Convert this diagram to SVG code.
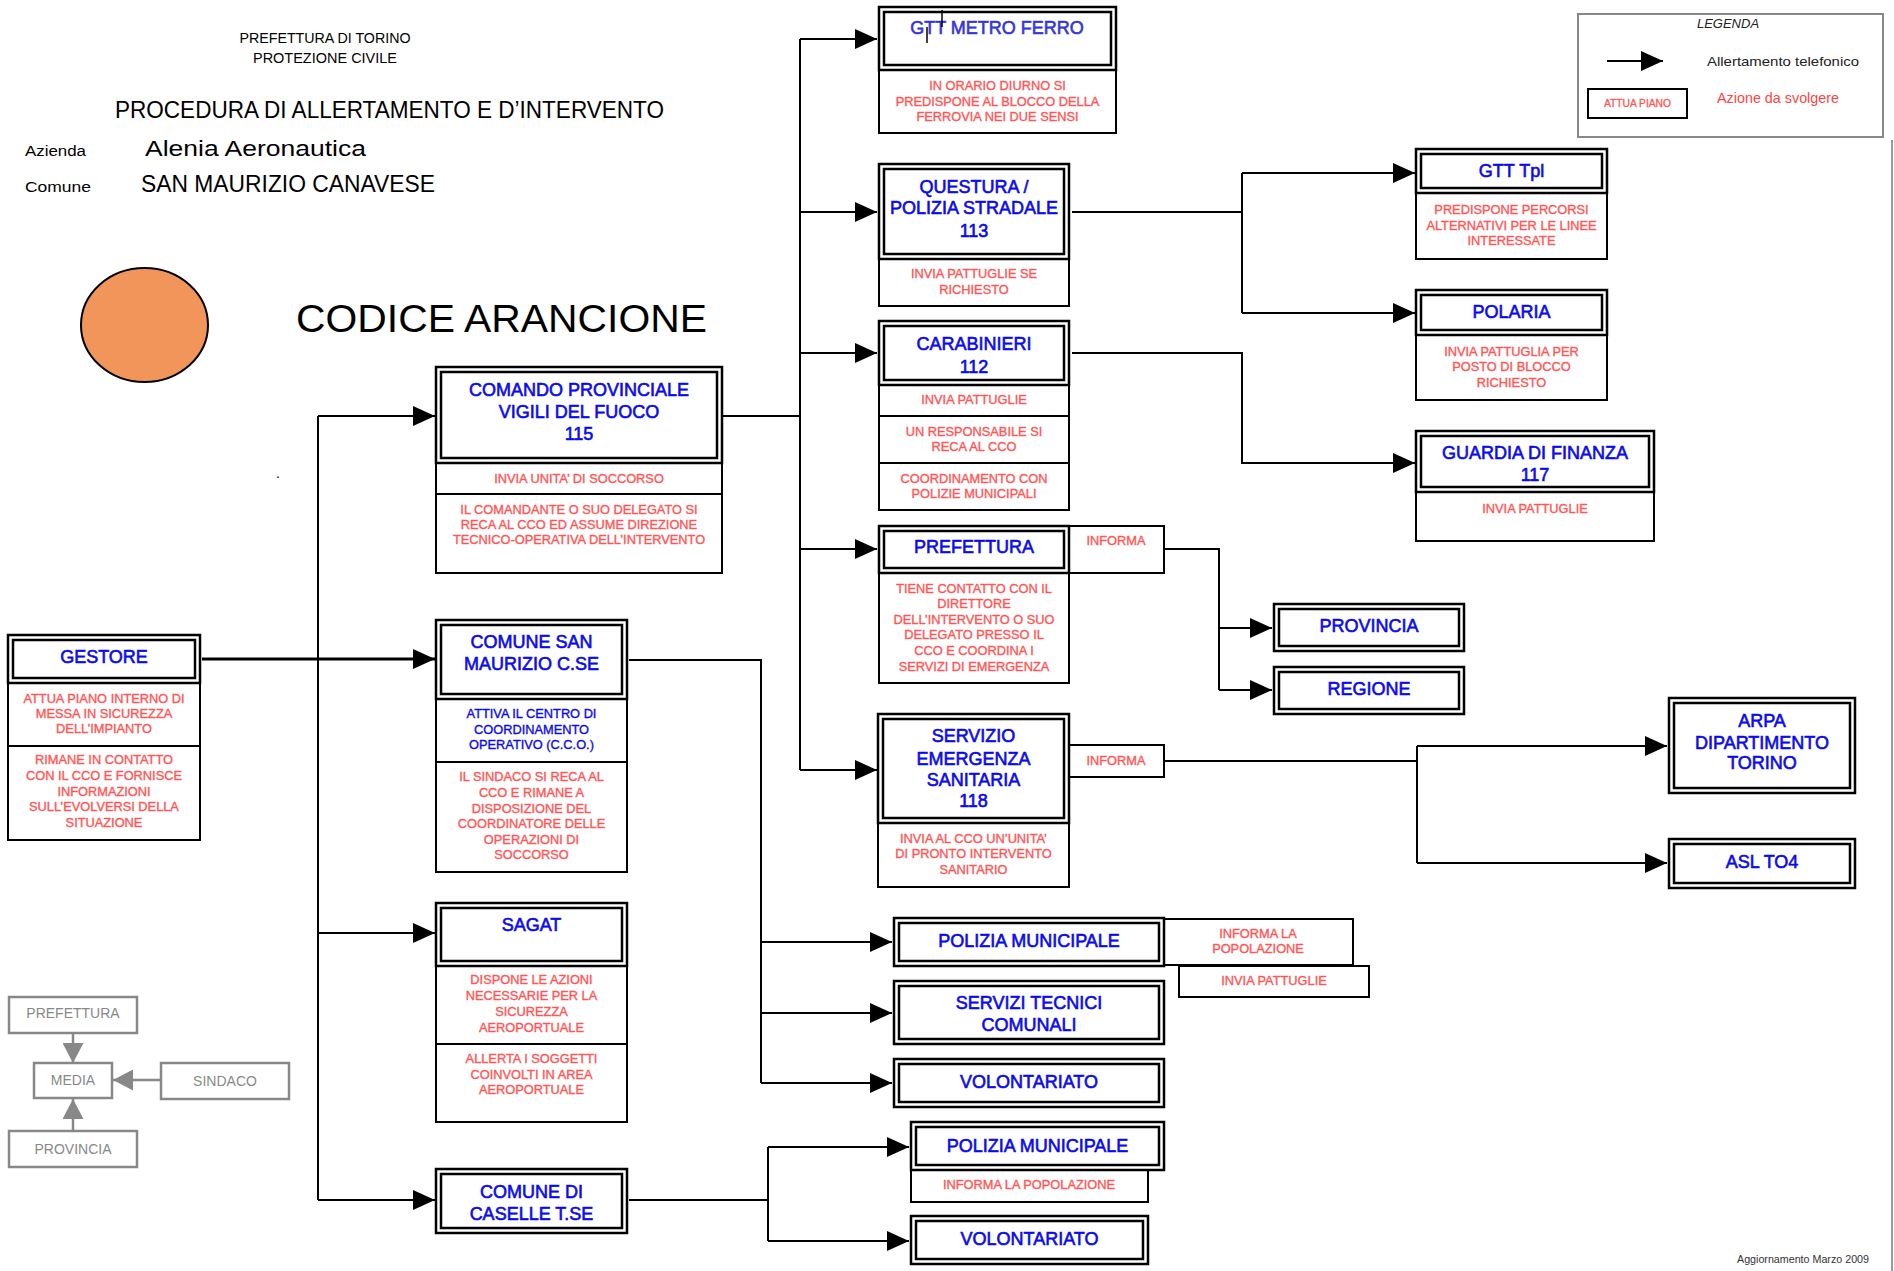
<svg xmlns="http://www.w3.org/2000/svg" width="1894" height="1271" viewBox="0 0 1894 1271">
<style>
text{font-family:"Liberation Sans",Arial,sans-serif}
.t{font-size:18px;fill:#0a0aee;stroke:#0a0aee;stroke-width:0.6;text-anchor:middle}
.r{font-size:12.8px;fill:#ff5555;stroke:#ff5555;stroke-width:0.35;text-anchor:middle}
.b{font-size:12.8px;fill:#0a0aee;stroke:#0a0aee;stroke-width:0.35;text-anchor:middle}
.o{fill:#fff;stroke:#000;stroke-width:2.5}
.i{fill:none;stroke:#000;stroke-width:2.5}
.a{fill:#fff;stroke:#000;stroke-width:2}
.c{fill:none;stroke:#000;stroke-width:2}
.gb{fill:#fff;stroke:#888;stroke-width:2.5}
.gl{fill:none;stroke:#888;stroke-width:2.5}
.gt{font-size:14px;fill:#888;text-anchor:middle}
</style>
<defs>
<marker id="ah" viewBox="0 0 22 20" refX="22" refY="10" markerWidth="22" markerHeight="20" markerUnits="userSpaceOnUse" orient="auto"><path d="M0,0L22,10L0,20z" fill="#000"/></marker>
<marker id="gh" viewBox="0 0 20 21" refX="20" refY="10.5" markerWidth="20" markerHeight="21" markerUnits="userSpaceOnUse" orient="auto"><path d="M0,0L20,10.5L0,21z" fill="#888"/></marker>
</defs>

<g id="header">
<text x="325" y="43" font-size="15" text-anchor="middle" textLength="171" lengthAdjust="spacingAndGlyphs">PREFETTURA DI TORINO</text>
<text x="325" y="63" font-size="15" text-anchor="middle" textLength="144" lengthAdjust="spacingAndGlyphs">PROTEZIONE CIVILE</text>
<text x="115" y="118" font-size="24" textLength="549" lengthAdjust="spacingAndGlyphs">PROCEDURA DI ALLERTAMENTO E D’INTERVENTO</text>
<text x="25" y="156" font-size="14" textLength="61" lengthAdjust="spacingAndGlyphs">Azienda</text>
<text x="145" y="156" font-size="22" textLength="221" lengthAdjust="spacingAndGlyphs">Alenia Aeronautica</text>
<text x="25" y="192" font-size="14" textLength="66" lengthAdjust="spacingAndGlyphs">Comune</text>
<text x="141" y="192" font-size="23" textLength="294" lengthAdjust="spacingAndGlyphs">SAN MAURIZIO CANAVESE</text>
<ellipse cx="144.5" cy="325" rx="63.5" ry="57" fill="#f2955a" stroke="#000" stroke-width="2"/>
<text x="296" y="332" font-size="38" textLength="411" lengthAdjust="spacingAndGlyphs">CODICE ARANCIONE</text>
<text x="276" y="478" font-size="14">.</text>
<text x="1869" y="1263" font-size="11" text-anchor="end" fill="#333" textLength="132" lengthAdjust="spacingAndGlyphs">Aggiornamento Marzo 2009</text>
<line x1="1892" y1="140" x2="1892" y2="1271" stroke="#999" stroke-width="2"/>
</g>

<g id="legend">
<rect x="1578" y="14" width="305" height="123" fill="#fff" stroke="#888" stroke-width="2"/>
<text x="1728" y="28" font-size="13" font-style="italic" text-anchor="middle" fill="#222">LEGENDA</text>
<line x1="1607" y1="61" x2="1663" y2="61" stroke="#000" stroke-width="2" marker-end="url(#ah)"/>
<text x="1707" y="66" font-size="13.5" fill="#222" textLength="152" lengthAdjust="spacingAndGlyphs">Allertamento telefonico</text>
<rect x="1588" y="89" width="99" height="29" fill="#fff" stroke="#000" stroke-width="2"/>
<text x="1637.5" y="107" font-size="10" fill="#ff5555" stroke="#ff5555" stroke-width="0.3" text-anchor="middle" textLength="67" lengthAdjust="spacingAndGlyphs">ATTUA PIANO</text>
<text x="1717" y="103" font-size="14" fill="#ff4444" textLength="122" lengthAdjust="spacingAndGlyphs">Azione da svolgere</text>
</g>

<g id="connectors" class="c">
<line x1="202" y1="659" x2="435" y2="659" stroke-width="3" marker-end="url(#ah)"/>
<line x1="318" y1="416" x2="318" y2="1200"/>
<line x1="318" y1="416" x2="435" y2="416" marker-end="url(#ah)"/>
<line x1="318" y1="933" x2="435" y2="933" marker-end="url(#ah)"/>
<line x1="318" y1="1200" x2="435" y2="1200" marker-end="url(#ah)"/>
<line x1="722" y1="416" x2="800" y2="416"/>
<line x1="800" y1="39" x2="800" y2="770"/>
<line x1="800" y1="39" x2="877" y2="39" marker-end="url(#ah)"/>
<line x1="800" y1="212" x2="877" y2="212" marker-end="url(#ah)"/>
<line x1="800" y1="353" x2="877" y2="353" marker-end="url(#ah)"/>
<line x1="800" y1="549" x2="877" y2="549" marker-end="url(#ah)"/>
<line x1="800" y1="770" x2="877" y2="770" marker-end="url(#ah)"/>
<path d="M1072,212H1242M1242,173V313"/>
<line x1="1242" y1="173" x2="1415" y2="173" marker-end="url(#ah)"/>
<line x1="1242" y1="313" x2="1415" y2="313" marker-end="url(#ah)"/>
<path d="M1072,353H1242V463H1415" marker-end="url(#ah)"/>
<path d="M1164,549H1219V690"/>
<line x1="1219" y1="628" x2="1272" y2="628" marker-end="url(#ah)"/>
<line x1="1219" y1="690" x2="1272" y2="690" marker-end="url(#ah)"/>
<path d="M1164,761H1417M1417,746V863"/>
<line x1="1417" y1="746" x2="1667" y2="746" marker-end="url(#ah)"/>
<line x1="1417" y1="863" x2="1667" y2="863" marker-end="url(#ah)"/>
<path d="M629,660H761V1083"/>
<line x1="761" y1="942" x2="892" y2="942" marker-end="url(#ah)"/>
<line x1="761" y1="1013" x2="892" y2="1013" marker-end="url(#ah)"/>
<line x1="761" y1="1083" x2="892" y2="1083" marker-end="url(#ah)"/>
<path d="M629,1200H768M768,1147V1241"/>
<line x1="768" y1="1147" x2="909" y2="1147" marker-end="url(#ah)"/>
<line x1="768" y1="1241" x2="909" y2="1241" marker-end="url(#ah)"/>
</g>

<g id="n-gtt-metro">
<rect class="a" x="879" y="70" width="237" height="63"/>
<rect class="o" x="879" y="7" width="237" height="63"/>
<rect class="i" x="884" y="12" width="227" height="53"/>
<text class="t" x="997" y="34" style="fill:#3535d8;stroke:#3535d8">GTT METRO FERRO</text>
<path d="M942,10V27M927,27V43" stroke="#000" stroke-width="1.5"/>
<text class="r" x="997.5" y="90">IN ORARIO DIURNO SI</text>
<text class="r" x="997.5" y="106">PREDISPONE AL BLOCCO DELLA</text>
<text class="r" x="997.5" y="121">FERROVIA NEI DUE SENSI</text>
</g>

<g id="n-questura">
<rect class="a" x="879" y="259" width="190" height="47"/>
<rect class="o" x="879" y="164" width="190" height="95"/>
<rect class="i" x="884" y="169" width="180" height="85"/>
<text class="t" x="974" y="193">QUESTURA /</text>
<text class="t" x="974" y="214">POLIZIA STRADALE</text>
<text class="t" x="974" y="237">113</text>
<text class="r" x="974" y="278">INVIA PATTUGLIE SE</text>
<text class="r" x="974" y="294">RICHIESTO</text>
</g>

<g id="n-carabinieri">
<rect class="a" x="879" y="385" width="190" height="31"/>
<rect class="a" x="879" y="416" width="190" height="47"/>
<rect class="a" x="879" y="463" width="190" height="47"/>
<rect class="o" x="879" y="321" width="190" height="64"/>
<rect class="i" x="884" y="326" width="180" height="54"/>
<text class="t" x="974" y="350">CARABINIERI</text>
<text class="t" x="974" y="373">112</text>
<text class="r" x="974" y="404">INVIA PATTUGLIE</text>
<text class="r" x="974" y="436">UN RESPONSABILE SI</text>
<text class="r" x="974" y="451">RECA AL CCO</text>
<text class="r" x="974" y="483">COORDINAMENTO CON</text>
<text class="r" x="974" y="498">POLIZIE MUNICIPALI</text>
</g>

<g id="n-prefettura">
<rect class="a" x="879" y="573" width="190" height="110"/>
<rect class="a" x="1069" y="526" width="95" height="47"/>
<rect class="o" x="879" y="526" width="190" height="47"/>
<rect class="i" x="884" y="531" width="180" height="37"/>
<text class="t" x="974" y="553">PREFETTURA</text>
<text class="r" x="1116" y="545">INFORMA</text>
<text class="r" x="974" y="593">TIENE CONTATTO CON  IL</text>
<text class="r" x="974" y="608">DIRETTORE</text>
<text class="r" x="974" y="624">DELL’INTERVENTO  O SUO</text>
<text class="r" x="974" y="639">DELEGATO PRESSO IL</text>
<text class="r" x="974" y="655">CCO E COORDINA I</text>
<text class="r" x="974" y="671">SERVIZI DI EMERGENZA</text>
</g>

<g id="n-118">
<rect class="a" x="878" y="823" width="191" height="64"/>
<rect class="a" x="1069" y="745" width="95" height="32"/>
<rect class="o" x="878" y="714" width="191" height="109"/>
<rect class="i" x="883" y="719" width="181" height="99"/>
<text class="t" x="973.5" y="742">SERVIZIO</text>
<text class="t" x="973.5" y="765">EMERGENZA</text>
<text class="t" x="973.5" y="786">SANITARIA</text>
<text class="t" x="973.5" y="807">118</text>
<text class="r" x="1116" y="765">INFORMA</text>
<text class="r" x="973.5" y="843">INVIA AL CCO UN’UNITA’</text>
<text class="r" x="973.5" y="858">DI PRONTO INTERVENTO</text>
<text class="r" x="973.5" y="874">SANITARIO</text>
</g>

<g id="n-vvf">
<rect class="a" x="436" y="463" width="286" height="31"/>
<rect class="a" x="436" y="494" width="286" height="79"/>
<rect class="o" x="436" y="367" width="286" height="96"/>
<rect class="i" x="441" y="372" width="276" height="86"/>
<text class="t" x="579" y="396">COMANDO PROVINCIALE</text>
<text class="t" x="579" y="418">VIGILI DEL FUOCO</text>
<text class="t" x="579" y="440">115</text>
<text class="r" x="579" y="483">INVIA UNITA’ DI SOCCORSO</text>
<text class="r" x="579" y="514">IL COMANDANTE O SUO DELEGATO SI</text>
<text class="r" x="579" y="529">RECA AL CCO ED ASSUME DIREZIONE</text>
<text class="r" x="579" y="544">TECNICO-OPERATIVA DELL’INTERVENTO</text>
</g>

<g id="n-comune-sm">
<rect class="a" x="436" y="699" width="191" height="63"/>
<rect class="a" x="436" y="762" width="191" height="110"/>
<rect class="o" x="436" y="620" width="191" height="79"/>
<rect class="i" x="441" y="625" width="181" height="69"/>
<text class="t" x="531.5" y="648">COMUNE SAN</text>
<text class="t" x="531.5" y="670">MAURIZIO C.SE</text>
<text class="b" x="531.5" y="718">ATTIVA IL CENTRO DI</text>
<text class="b" x="531.5" y="734">COORDINAMENTO</text>
<text class="b" x="531.5" y="749">OPERATIVO (C.C.O.)</text>
<text class="r" x="531.5" y="781">IL SINDACO  SI RECA AL</text>
<text class="r" x="531.5" y="797">CCO E RIMANE A</text>
<text class="r" x="531.5" y="813">DISPOSIZIONE DEL</text>
<text class="r" x="531.5" y="828">COORDINATORE DELLE</text>
<text class="r" x="531.5" y="844">OPERAZIONI DI</text>
<text class="r" x="531.5" y="859">SOCCORSO</text>
</g>

<g id="n-sagat">
<rect class="a" x="436" y="966" width="191" height="78"/>
<rect class="a" x="436" y="1044" width="191" height="78"/>
<rect class="o" x="436" y="903" width="191" height="63"/>
<rect class="i" x="441" y="908" width="181" height="53"/>
<text class="t" x="531.5" y="931">SAGAT</text>
<text class="r" x="531.5" y="984">DISPONE LE AZIONI</text>
<text class="r" x="531.5" y="1000">NECESSARIE PER LA</text>
<text class="r" x="531.5" y="1016">SICUREZZA</text>
<text class="r" x="531.5" y="1032">AEROPORTUALE</text>
<text class="r" x="531.5" y="1063">ALLERTA I SOGGETTI</text>
<text class="r" x="531.5" y="1079">COINVOLTI IN AREA</text>
<text class="r" x="531.5" y="1094">AEROPORTUALE</text>
</g>

<g id="n-caselle">
<rect class="o" x="436" y="1169" width="191" height="64"/>
<rect class="i" x="441" y="1174" width="181" height="54"/>
<text class="t" x="531.5" y="1198">COMUNE DI</text>
<text class="t" x="531.5" y="1220">CASELLE T.SE</text>
</g>

<g id="n-gestore">
<rect class="a" x="8" y="683" width="192" height="63"/>
<rect class="a" x="8" y="746" width="192" height="94"/>
<rect class="o" x="8" y="635" width="192" height="48"/>
<rect class="i" x="13" y="640" width="182" height="38"/>
<text class="t" x="104" y="663">GESTORE</text>
<text class="r" x="104" y="703">ATTUA PIANO INTERNO DI</text>
<text class="r" x="104" y="718">MESSA IN SICUREZZA</text>
<text class="r" x="104" y="733">DELL’IMPIANTO</text>
<text class="r" x="104" y="764">RIMANE IN CONTATTO</text>
<text class="r" x="104" y="780">CON IL CCO E FORNISCE</text>
<text class="r" x="104" y="796">INFORMAZIONI</text>
<text class="r" x="104" y="811">SULL’EVOLVERSI DELLA</text>
<text class="r" x="104" y="827">SITUAZIONE</text>
</g>

<g id="n-gtt-tpl">
<rect class="a" x="1416" y="193" width="191" height="66"/>
<rect class="o" x="1416" y="149" width="191" height="44"/>
<rect class="i" x="1421" y="154" width="181" height="34"/>
<text class="t" x="1511.5" y="177">GTT Tpl</text>
<text class="r" x="1511.5" y="214">PREDISPONE PERCORSI</text>
<text class="r" x="1511.5" y="230">ALTERNATIVI PER LE LINEE</text>
<text class="r" x="1511.5" y="245">INTERESSATE</text>
</g>

<g id="n-polaria">
<rect class="a" x="1416" y="335" width="191" height="65"/>
<rect class="o" x="1416" y="290" width="191" height="45"/>
<rect class="i" x="1421" y="295" width="181" height="35"/>
<text class="t" x="1511.5" y="318">POLARIA</text>
<text class="r" x="1511.5" y="356">INVIA PATTUGLIA PER</text>
<text class="r" x="1511.5" y="371">POSTO DI BLOCCO</text>
<text class="r" x="1511.5" y="387">RICHIESTO</text>
</g>

<g id="n-gdf">
<rect class="a" x="1416" y="492" width="238" height="49"/>
<rect class="o" x="1416" y="431" width="238" height="61"/>
<rect class="i" x="1421" y="436" width="228" height="51"/>
<text class="t" x="1535" y="459">GUARDIA DI FINANZA</text>
<text class="t" x="1535" y="481">117</text>
<text class="r" x="1535" y="513">INVIA PATTUGLIE</text>
</g>

<g id="n-provincia">
<rect class="o" x="1274" y="604" width="190" height="47"/>
<rect class="i" x="1279" y="609" width="180" height="37"/>
<text class="t" x="1369" y="632">PROVINCIA</text>
</g>

<g id="n-regione">
<rect class="o" x="1274" y="667" width="190" height="47"/>
<rect class="i" x="1279" y="672" width="180" height="37"/>
<text class="t" x="1369" y="695">REGIONE</text>
</g>

<g id="n-arpa">
<rect class="o" x="1669" y="698" width="186" height="95"/>
<rect class="i" x="1674" y="703" width="176" height="85"/>
<text class="t" x="1762" y="727">ARPA</text>
<text class="t" x="1762" y="749">DIPARTIMENTO</text>
<text class="t" x="1762" y="769">TORINO</text>
</g>

<g id="n-asl">
<rect class="o" x="1669" y="839" width="186" height="49"/>
<rect class="i" x="1674" y="844" width="176" height="39"/>
<text class="t" x="1762" y="868">ASL TO4</text>
</g>

<g id="n-pm1">
<rect class="a" x="1164" y="919" width="189" height="46"/>
<rect class="a" x="1179" y="966" width="190" height="31"/>
<rect class="o" x="894" y="918" width="270" height="48"/>
<rect class="i" x="899" y="923" width="260" height="38"/>
<text class="t" x="1029" y="947">POLIZIA MUNICIPALE</text>
<text class="r" x="1258" y="938">INFORMA LA</text>
<text class="r" x="1258" y="953">POPOLAZIONE</text>
<text class="r" x="1274" y="985">INVIA PATTUGLIE</text>
</g>

<g id="n-servizi-tecnici">
<rect class="o" x="894" y="981" width="270" height="63"/>
<rect class="i" x="899" y="986" width="260" height="53"/>
<text class="t" x="1029" y="1009">SERVIZI TECNICI</text>
<text class="t" x="1029" y="1031">COMUNALI</text>
</g>

<g id="n-volontariato1">
<rect class="o" x="894" y="1059" width="270" height="48"/>
<rect class="i" x="899" y="1064" width="260" height="38"/>
<text class="t" x="1029" y="1088">VOLONTARIATO</text>
</g>

<g id="n-pm2">
<rect class="a" x="911" y="1170" width="237" height="32"/>
<rect class="o" x="911" y="1122" width="253" height="48"/>
<rect class="i" x="916" y="1127" width="243" height="38"/>
<text class="t" x="1037.5" y="1152">POLIZIA MUNICIPALE</text>
<text class="r" x="1029" y="1189">INFORMA LA POPOLAZIONE</text>
</g>

<g id="n-volontariato2">
<rect class="o" x="911" y="1216" width="237" height="48"/>
<rect class="i" x="916" y="1221" width="227" height="38"/>
<text class="t" x="1029.5" y="1245">VOLONTARIATO</text>
</g>

<g id="media-diagram">
<g id="m-prefettura"><rect class="gb" x="9" y="997" width="128" height="36"/><text class="gt" x="73" y="1018">PREFETTURA</text></g>
<g id="m-media"><rect class="gb" x="34" y="1063" width="78" height="35"/><text class="gt" x="73" y="1085">MEDIA</text></g>
<g id="m-sindaco"><rect class="gb" x="161" y="1063" width="128" height="36"/><text class="gt" x="225" y="1086">SINDACO</text></g>
<g id="m-provincia"><rect class="gb" x="9" y="1131" width="128" height="36"/><text class="gt" x="73" y="1154">PROVINCIA</text></g>
<g id="m-connectors" class="gl">
<line x1="73" y1="1033" x2="73" y2="1063" marker-end="url(#gh)"/>
<line x1="161" y1="1080" x2="113" y2="1080" marker-end="url(#gh)"/>
<line x1="73" y1="1131" x2="73" y2="1099" marker-end="url(#gh)"/>
</g>
</g>
</svg>
